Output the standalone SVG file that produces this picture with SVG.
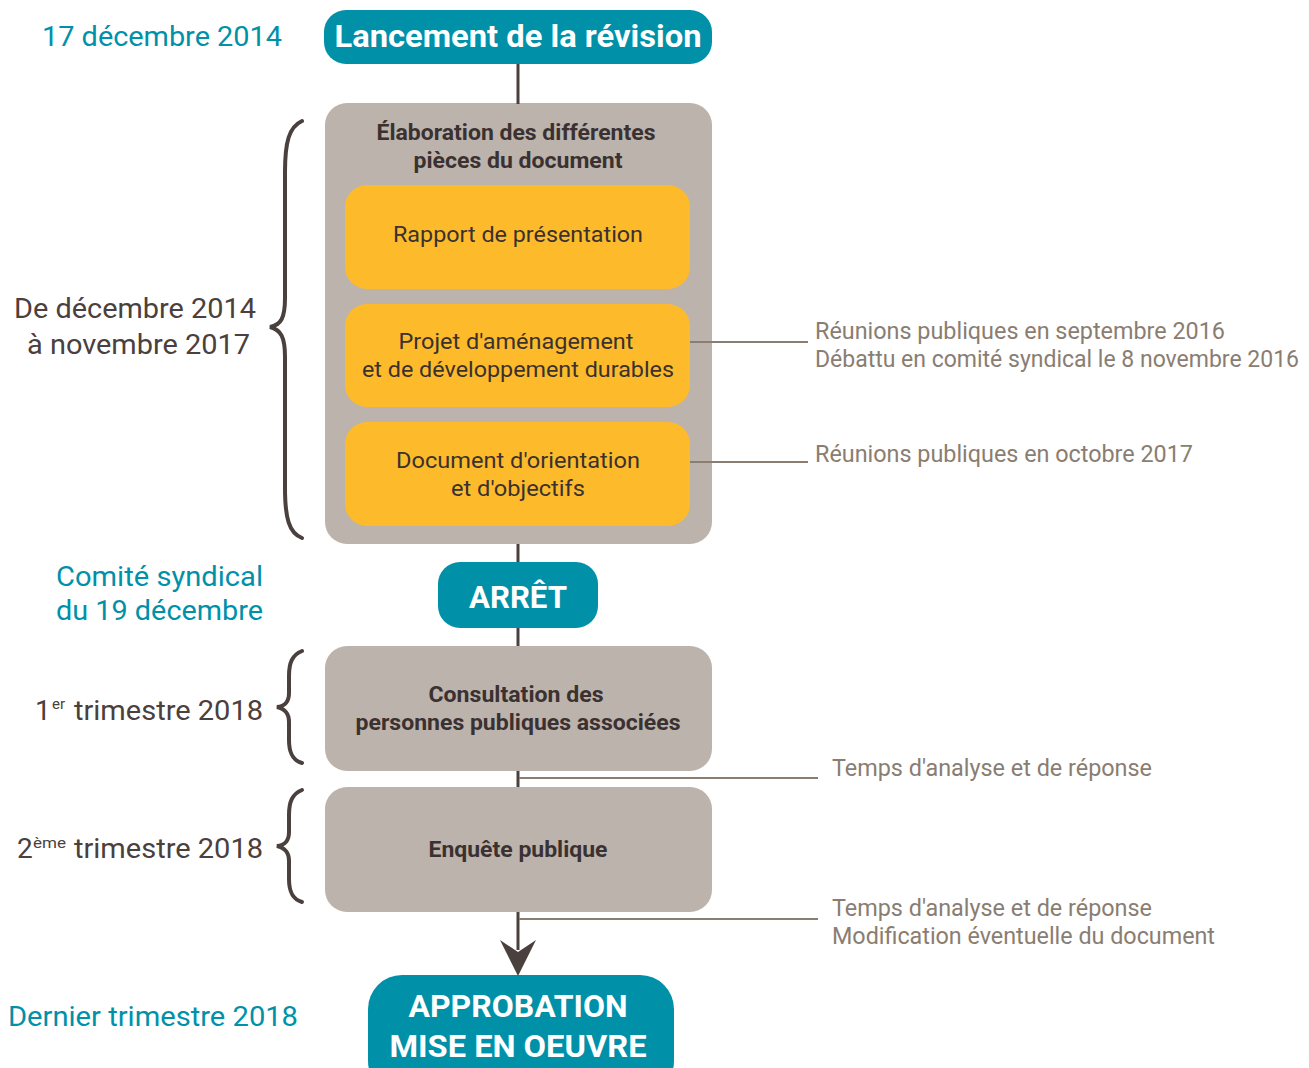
<svg xmlns="http://www.w3.org/2000/svg" width="1309" height="1068" viewBox="0 0 1309 1068">
<style>
.teal{fill:#0091A9}
.gray{fill:#BCB3AD}
.yel{fill:#FDBB2B}
.wt{font-family:Roboto,"Liberation Sans",sans-serif;font-weight:700;fill:#fff;text-anchor:middle}
.dk{font-family:Roboto,"Liberation Sans",sans-serif;font-weight:700;fill:#3a3130;text-anchor:middle;font-size:22px}
.in{font-family:Roboto,"Liberation Sans",sans-serif;fill:#3a3130;text-anchor:middle;font-size:22px}
.side{font-family:Roboto,"Liberation Sans",sans-serif;fill:#8a7d71;font-size:24px}
.tl{font-family:Roboto,"Liberation Sans",sans-serif;fill:#0091A9;font-size:28px}
.lb{font-family:Roboto,"Liberation Sans",sans-serif;fill:#4a403d;font-size:28px}
.sup{font-family:Roboto,"Liberation Sans",sans-serif;fill:#4a403d;font-size:15px}
.main{stroke:#4a403d;stroke-width:3;fill:none}
.note{stroke:#8a7d71;stroke-width:2;fill:none}
.brace{stroke:#4a403d;stroke-width:4;fill:none;stroke-linecap:round}
</style>
<g id="lancement">
<rect class="teal" x="324" y="10" width="388" height="54" rx="22"/>
<text class="wt" x="518" y="47" font-size="31" textLength="367" lengthAdjust="spacingAndGlyphs">Lancement de la révision</text>
</g>
<g id="elaboration">
<rect class="gray" x="325" y="103" width="387" height="441" rx="22"/>
<text class="dk" x="516" y="140" textLength="279" lengthAdjust="spacingAndGlyphs">Élaboration des différentes</text>
<text class="dk" x="518" y="168" textLength="209" lengthAdjust="spacingAndGlyphs">pièces du document</text>
</g>
<g id="rapport">
<rect class="yel" x="345" y="185" width="345" height="104" rx="22"/>
<text class="in" x="518" y="242" textLength="250" lengthAdjust="spacingAndGlyphs">Rapport de présentation</text>
</g>
<g id="padd">
<rect class="yel" x="345" y="304" width="345" height="103" rx="22"/>
<text class="in" x="516" y="349" textLength="235" lengthAdjust="spacingAndGlyphs">Projet d'aménagement</text>
<text class="in" x="518" y="377" textLength="312" lengthAdjust="spacingAndGlyphs">et de développement durables</text>
</g>
<g id="doo">
<rect class="yel" x="345" y="422" width="345" height="104" rx="22"/>
<text class="in" x="518" y="468" textLength="244" lengthAdjust="spacingAndGlyphs">Document d'orientation</text>
<text class="in" x="518" y="496" textLength="134" lengthAdjust="spacingAndGlyphs">et d'objectifs</text>
</g>
<g id="arret">
<rect class="teal" x="438" y="562" width="160" height="66" rx="22"/>
<text class="wt" x="518" y="608" font-size="32" textLength="98" lengthAdjust="spacingAndGlyphs">ARRÊT</text>
</g>
<g id="consultation">
<rect class="gray" x="325" y="646" width="387" height="125" rx="22"/>
<text class="dk" x="516" y="702" textLength="175" lengthAdjust="spacingAndGlyphs">Consultation des</text>
<text class="dk" x="518" y="730" textLength="325" lengthAdjust="spacingAndGlyphs">personnes publiques associées</text>
</g>
<g id="enquete">
<rect class="gray" x="325" y="787" width="387" height="125" rx="22"/>
<text class="dk" x="518" y="857" textLength="179" lengthAdjust="spacingAndGlyphs">Enquête publique</text>
</g>
<g id="approbation">
<rect class="teal" x="368" y="975" width="306" height="120" rx="34"/>
<text class="wt" x="518" y="1017" font-size="32" textLength="219" lengthAdjust="spacingAndGlyphs">APPROBATION</text>
<text class="wt" x="518" y="1057" font-size="32" textLength="257" lengthAdjust="spacingAndGlyphs">MISE EN OEUVRE</text>
</g>
<g id="connectors">
<line class="main" x1="518" y1="64" x2="518" y2="104"/>
<line class="main" x1="518" y1="544" x2="518" y2="562"/>
<line class="main" x1="518" y1="628" x2="518" y2="646"/>
<line class="main" x1="518" y1="771" x2="518" y2="787"/>
<line class="main" x1="518" y1="912" x2="518" y2="950"/>
<path d="M500,940 L518,952 L536,940 L518,976 Z" fill="#4a403d"/>
<line class="note" x1="690" y1="342" x2="808" y2="342"/>
<line class="note" x1="690" y1="462" x2="808" y2="462"/>
<line class="note" x1="519" y1="778" x2="818" y2="778"/>
<line class="note" x1="519" y1="919" x2="818" y2="919"/>
</g>
<g id="notes">
<text class="side" x="815" y="339" textLength="410" lengthAdjust="spacingAndGlyphs">Réunions publiques en septembre 2016</text>
<text class="side" x="815" y="367" textLength="484" lengthAdjust="spacingAndGlyphs">Débattu en comité syndical le 8 novembre 2016</text>
<text class="side" x="815" y="462" textLength="378" lengthAdjust="spacingAndGlyphs">Réunions publiques en octobre 2017</text>
<text class="side" x="832" y="776" textLength="320" lengthAdjust="spacingAndGlyphs">Temps d'analyse et de réponse</text>
<text class="side" x="832" y="916" textLength="320" lengthAdjust="spacingAndGlyphs">Temps d'analyse et de réponse</text>
<text class="side" x="832" y="944" textLength="383" lengthAdjust="spacingAndGlyphs">Modification éventuelle du document</text>
</g>
<g id="dates">
<text class="tl" x="42" y="46" textLength="240" lengthAdjust="spacingAndGlyphs">17 décembre 2014</text>
<text class="lb" x="14" y="318" textLength="242" lengthAdjust="spacingAndGlyphs">De décembre 2014</text>
<text class="lb" x="27" y="354" textLength="223" lengthAdjust="spacingAndGlyphs">à novembre 2017</text>
<text class="tl" x="56" y="586" textLength="207" lengthAdjust="spacingAndGlyphs">Comité syndical</text>
<text class="tl" x="56" y="620" textLength="207" lengthAdjust="spacingAndGlyphs">du 19 décembre</text>
<text class="lb" x="35" y="720">1</text>
<text class="sup" x="52" y="709">er</text>
<text class="lb" x="74" y="720" textLength="189" lengthAdjust="spacingAndGlyphs">trimestre 2018</text>
<text class="lb" x="17" y="858">2</text>
<text class="sup" x="33" y="848" textLength="33" lengthAdjust="spacingAndGlyphs">ème</text>
<text class="lb" x="74" y="858" textLength="189" lengthAdjust="spacingAndGlyphs">trimestre 2018</text>
<text class="tl" x="8" y="1026" textLength="290" lengthAdjust="spacingAndGlyphs">Dernier trimestre 2018</text>
</g>
<g id="braces">
<path class="brace" d="M302,121 C289,127 285,142 285,172 L285,298 C285,318 281,325 270,327 C281,330 285,337 285,357 L285,488 C285,518 289,533 302,538"/>
<path class="brace" d="M302,651 C292,655 289,663 289,676 L289,693 C289,702 285,706 277,707 C285,709 289,713 289,722 L289,740 C289,752 292,760 302,763"/>
<path class="brace" d="M302,790 C292,794 289,802 289,815 L289,832 C289,841 285,845 277,846 C285,848 289,852 289,861 L289,879 C289,891 292,899 302,902"/>
</g>
</svg>
